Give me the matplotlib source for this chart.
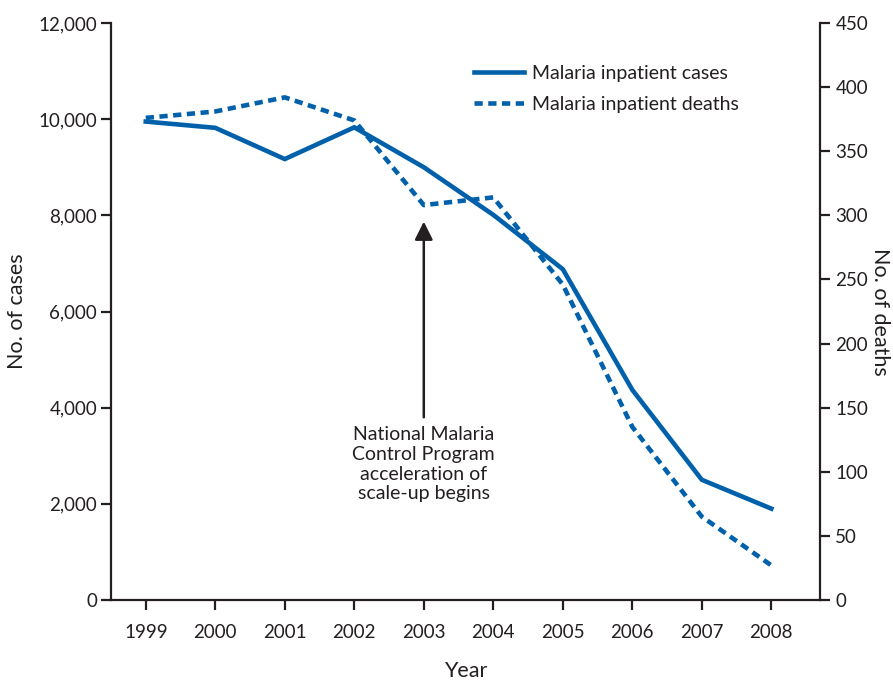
import matplotlib
matplotlib.use("Agg")
import matplotlib.pyplot as plt
from matplotlib.ticker import FuncFormatter

plt.rcParams['font.family'] = ['Lato', 'DejaVu Sans']

years = [1999, 2000, 2001, 2002, 2003, 2004, 2005, 2006, 2007, 2008]
cases = [9950, 9820, 9170, 9830, 9000, 8010, 6880, 4370, 2500, 1900]
deaths = [376, 381, 392, 374, 308, 314, 246, 135, 65, 27]

blue = '#0061AA'
dark = '#231F20'

fig = plt.figure(figsize=(8.93, 6.81), dpi=100)
ax = fig.add_axes([111/893, 81/681, (820-111)/893, (600-23)/681])
ax2 = ax.twinx()

l1, = ax.plot(years, cases, color=blue, lw=3.3, solid_joinstyle='miter',
              label='Malaria inpatient cases')
l2, = ax2.plot(years, deaths, color=blue, lw=3.3, dashes=(1.8, 1.2),
               dash_capstyle='butt', label='Malaria inpatient deaths')

ax.set_xlim(1998.5, 2008.7)
ax.set_ylim(0, 12000)
ax2.set_ylim(0, 450)
ax.set_xticks(years)
ax.set_yticks(range(0, 12001, 2000))
ax2.set_yticks(range(0, 451, 50))
ax.yaxis.set_major_formatter(FuncFormatter(lambda v, p: f'{int(v):,}'))

for a in (ax, ax2):
    a.spines['top'].set_visible(False)
    for s in a.spines.values():
        s.set_color(dark)
        s.set_linewidth(1.6)
    a.tick_params(colors=dark, labelcolor=dark, width=1.6, length=7,
                  labelsize=13.5, direction='out')
ax.spines['right'].set_visible(False)
ax2.spines['left'].set_visible(False)
ax2.spines['bottom'].set_visible(False)
ax.tick_params(axis='x', pad=10)
ax.tick_params(axis='y', pad=3)
ax2.tick_params(axis='y', pad=4)

ax.set_xlabel('Year', fontsize=15.5, color=dark, labelpad=15)
ax.set_ylabel('No. of cases', fontsize=15.5, color=dark, labelpad=8)
ax2.set_ylabel('No. of deaths', fontsize=15.5, color=dark, rotation=270,
               va='center', ha='center')
ax2.yaxis.set_label_coords(1.085, 0.5)

ax.annotate('', xy=(2003, 7870), xytext=(2003, 3800),
            arrowprops=dict(arrowstyle='-|>,head_length=1.1,head_width=0.55',
                            color=dark, lw=1.8, shrinkA=0, shrinkB=0))
ax.text(2003, 3620, 'National Malaria\nControl Program\nacceleration of\nscale-up begins',
        ha='center', va='top', fontsize=14, color=dark, linespacing=1.2)

leg = ax.legend(handles=[l1, l2], loc='upper left', bbox_to_anchor=(0.487, 0.958),
                frameon=False, fontsize=14, handlelength=2.6, handletextpad=0.4,
                labelspacing=0.72, labelcolor=dark)

fig.savefig('out.png', dpi=100)
